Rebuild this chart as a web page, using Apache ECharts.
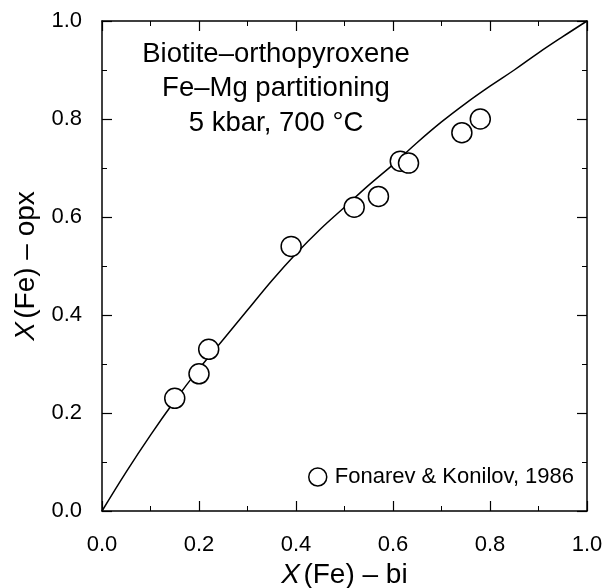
<!DOCTYPE html>
<html>
<head>
<meta charset="utf-8">
<script src="https://cdn.jsdelivr.net/npm/echarts@6/dist/echarts.min.js"></script>
<style>html,body{margin:0;padding:0;background:#fff}#c{width:609px;height:588px}</style>
</head>
<body>
<div id="c"></div>
<script>
// Calculated partitioning curve
const curveX = [0, 0.05, 0.1, 0.15, 0.2, 0.25, 0.3, 0.35, 0.4, 0.45, 0.5, 0.55, 0.6, 0.65, 0.7, 0.75, 0.8, 0.85, 0.9, 0.95, 1.0];
const curveY = [0, 0.08, 0.155, 0.225, 0.29, 0.35, 0.41, 0.47, 0.525, 0.575, 0.62, 0.665, 0.707, 0.752, 0.794, 0.832, 0.867, 0.9, 0.935, 0.968, 1.0];
// Fonarev & Konilov, 1986 data
const dataX = [0.15, 0.20, 0.22, 0.39, 0.52, 0.57, 0.615, 0.632, 0.742, 0.78];
const dataY = [0.23, 0.28, 0.33, 0.54, 0.62, 0.642, 0.714, 0.71, 0.772, 0.80];
const tickLabels = ['0.0', '0.2', '0.4', '0.6', '0.8', '1.0'];
const legendName = 'Fonarev & Konilov, 1986';
const noteLines = ['Biotite\u2013orthopyroxene', 'Fe\u2013Mg partitioning', '5 kbar, 700 \u00b0C'];

const FONT = '"Liberation Sans", Arial, Helvetica, sans-serif';
const chart = echarts.init(document.getElementById('c'), null, {renderer: 'canvas'});

function axisBase(show) {
  return {
    type: 'value', min: 0, max: 1, interval: 0.2,
    axisLine: {show: true, onZero: false, lineStyle: {color: '#000', width: 1.5}},
    axisTick: {show: true, inside: true, length: 10, lineStyle: {color: '#000', width: 1.2}},
    minorTick: {show: true, splitNumber: 2, length: 5, lineStyle: {color: '#000', width: 1}},
    splitLine: {show: false},
    axisLabel: {show: show, color: '#000', fontFamily: FONT, fontSize: 22, margin: 20,
      formatter: v => tickLabels[Math.round(v / 0.2)]}
  };
}
const nameRich = {i: {fontStyle: 'italic', fontFamily: FONT, fontSize: 28, color: '#000'},
                  n: {fontFamily: FONT, fontSize: 28, color: '#000'}};

const xBottom = axisBase(true);
Object.assign(xBottom, {position: 'bottom', name: '{i|X} {n|(Fe) \u2013 bi}', nameLocation: 'middle', nameGap: 48,
  nameTextStyle: {rich: nameRich}});
xBottom.axisLabel.margin = 23;
const xTop = Object.assign(axisBase(false), {position: 'top'});
const yLeft = Object.assign(axisBase(true), {
  position: 'left', name: '{i|X} {n|(Fe) \u2013 opx}', nameLocation: 'middle', nameGap: 62,
  nameTextStyle: {rich: nameRich}
});
const yRight = Object.assign(axisBase(false), {position: 'right'});

chart.setOption({
  animation: false,
  backgroundColor: '#fff',
  grid: {left: 102, right: 22, top: 21, bottom: 77, containLabel: false, outerBoundsMode: 'none'},
  xAxis: [xBottom, xTop],
  yAxis: [yLeft, yRight],
  legend: {
    data: [legendName], left: 308, top: 466, padding: 0, itemGap: 0,
    itemWidth: 18, itemHeight: 18, itemStyle: {color: '#fff', borderColor: '#000', borderWidth: 1.5},
    textStyle: {fontFamily: FONT, fontSize: 22, color: '#000', padding: [0, 0, 0, 3]}
  },
  graphic: noteLines.map((t, i) => ({
    type: 'text', x: 276, y: 54 + i * 34.5,
    style: {text: t, font: '27.5px ' + FONT, fill: '#000', align: 'center', verticalAlign: 'middle'}
  })),
  series: [
    {
      type: 'line', xAxisIndex: 0, yAxisIndex: 0, smooth: 0.4, showSymbol: false, silent: true,
      lineStyle: {color: '#000', width: 1.5},
      data: curveX.map((x, i) => [x, curveY[i]])
    },
    {
      type: 'scatter', name: legendName, xAxisIndex: 0, yAxisIndex: 0, symbol: 'circle', symbolSize: 20,
      itemStyle: {color: '#fff', borderColor: '#000', borderWidth: 1.5, opacity: 1},
      data: dataX.map((x, i) => [x, dataY[i]]), z: 5
    }
  ]
});
</script>
</body>
</html>
